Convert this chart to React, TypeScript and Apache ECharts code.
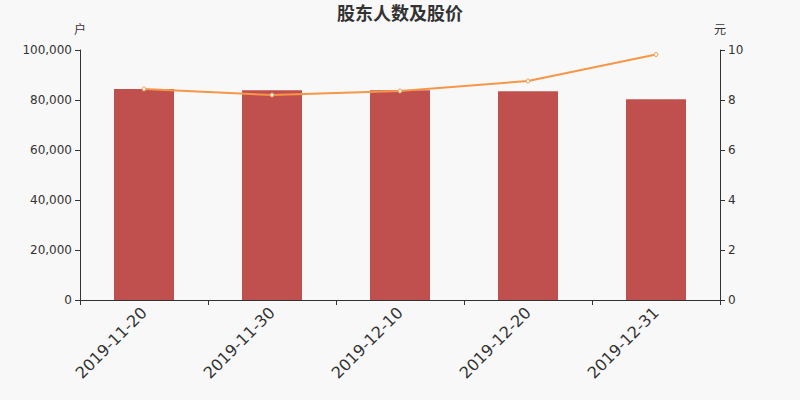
import React, { useEffect, useRef } from "react";
import * as echarts from "echarts";

const categories = ["2019-11-20", "2019-11-30", "2019-12-10", "2019-12-20", "2019-12-31"];
const holders = [84400, 83900, 83900, 83500, 80300];
const prices = [8.44, 8.2, 8.36, 8.76, 9.82];

const FONT = "DejaVu Sans";

export default function App() {
  const ref = useRef<HTMLDivElement>(null);
  useEffect(() => {
    document.body.style.margin = "0";
    document.body.style.background = "#f8f8f8";
    const chart = echarts.init(ref.current!, null, { renderer: "svg" });
    chart.setOption({
      animation: false,
      backgroundColor: "#f8f8f8",
      textStyle: { fontFamily: FONT },
      title: {
        text: "股东人数及股价",
        left: "center",
        top: 0,
        padding: [3, 5, 5, 5],
        textStyle: { fontSize: 18, fontWeight: "bold", color: "#333", fontFamily: "Noto Sans CJK SC" },
      },
      grid: { left: 80, right: 80, top: 50, bottom: 100 },
      xAxis: {
        type: "category",
        data: categories,
        axisLine: { lineStyle: { color: "#333" } },
        axisTick: { show: true, alignWithLabel: false },
        axisLabel: { rotate: 45, fontSize: 16, color: "#333", margin: 10, fontFamily: FONT },
      },
      yAxis: [
        {
          type: "value",
          name: "户",
          min: 0,
          max: 100000,
          interval: 20000,
          nameGap: 16,
          nameTextStyle: { color: "#333", fontSize: 12, fontFamily: "Noto Sans CJK SC" },
          axisLine: { show: true, lineStyle: { color: "#333" } },
          axisTick: { show: true },
          splitLine: { show: false },
          axisLabel: {
            color: "#333",
            fontSize: 12,
            fontFamily: FONT,
            formatter: (v: number) => v.toLocaleString("en-US"),
          },
        },
        {
          type: "value",
          name: "元",
          min: 0,
          max: 10,
          interval: 2,
          nameGap: 16,
          nameTextStyle: { color: "#333", fontSize: 12, fontFamily: "Noto Sans CJK SC" },
          axisLine: { show: true, lineStyle: { color: "#333" } },
          axisTick: { show: true },
          splitLine: { show: false },
          axisLabel: { color: "#333", fontSize: 12, fontFamily: FONT },
        },
      ],
      series: [
        {
          type: "bar",
          data: holders,
          barWidth: 60,
          itemStyle: { color: "#c0504d" },
        },
        {
          type: "line",
          yAxisIndex: 1,
          data: prices,
          symbol: "circle",
          symbolSize: 4,
          showSymbol: true,
          lineStyle: { color: "#f79646", width: 2 },
          itemStyle: { color: "#fff", borderColor: "#f79646", borderWidth: 1 },
        },
      ],
    });
    return () => chart.dispose();
  }, []);
  return <div ref={ref} style={{ width: 800, height: 400 }} />;
}
